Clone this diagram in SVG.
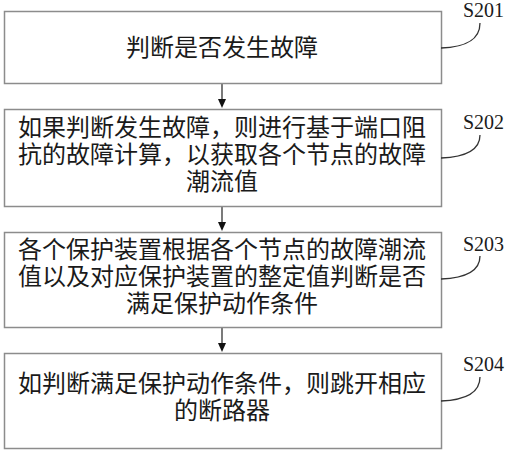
<svg xmlns="http://www.w3.org/2000/svg" width="506" height="450" viewBox="0 0 506 450">
<style>
.box{fill:#fff;stroke:#8c8c8c;stroke-width:1.5}
.t{font-family:"Noto Sans CJK SC","Liberation Serif",sans-serif;font-size:24px;fill:#1a1a1a;text-anchor:middle}
.lbl{font-family:"Liberation Serif",serif;font-size:20px;fill:#1a1a1a}
.lead{fill:none;stroke:#333;stroke-width:1.3}
.conn{stroke:#222;stroke-width:1.2}
.head{fill:#111}
</style>
<rect width="506" height="450" fill="#fff"/>
<g id="connectors">
<line class="conn" x1="222" y1="83" x2="222" y2="101"/>
<path class="head" d="M218,99 L226,99 L222,108 Z"/>
<line class="conn" x1="222" y1="206" x2="222" y2="224"/>
<path class="head" d="M218,222 L226,222 L222,231 Z"/>
<line class="conn" x1="222" y1="327" x2="222" y2="345"/>
<path class="head" d="M218,343 L226,343 L222,352 Z"/>
</g>
<g id="s201">
<rect class="box" x="4.5" y="11.5" width="437" height="72"/>
<text class="t" x="222" y="56">判断是否发生故障</text>
<path class="lead" d="M441,48 C466,47 480,40 480,23"/>
<text class="lbl" x="463" y="17" textLength="41">S201</text>
</g>
<g id="s202">
<rect class="box" x="4.5" y="109.5" width="437" height="97"/>
<text class="t" x="222" y="136">如果判断发生故障，则进行基于端口阻</text>
<text class="t" x="222" y="163">抗的故障计算，以获取各个节点的故障</text>
<text class="t" x="222" y="190">潮流值</text>
<path class="lead" d="M441,158 C466,157 480,150 480,135"/>
<text class="lbl" x="463" y="129" textLength="41">S202</text>
</g>
<g id="s203">
<rect class="box" x="4.5" y="232.5" width="437" height="95"/>
<text class="t" x="222" y="258">各个保护装置根据各个节点的故障潮流</text>
<text class="t" x="222" y="285">值以及对应保护装置的整定值判断是否</text>
<text class="t" x="222" y="312">满足保护动作条件</text>
<path class="lead" d="M441,279 C466,278 480,271 480,256"/>
<text class="lbl" x="463" y="251" textLength="41">S203</text>
</g>
<g id="s204">
<rect class="box" x="4.5" y="353.5" width="437" height="95"/>
<text class="t" x="222" y="392">如判断满足保护动作条件，则跳开相应</text>
<text class="t" x="222" y="419">的断路器</text>
<path class="lead" d="M441,401 C466,400 480,393 480,377"/>
<text class="lbl" x="463" y="371" textLength="41">S204</text>
</g>
</svg>
